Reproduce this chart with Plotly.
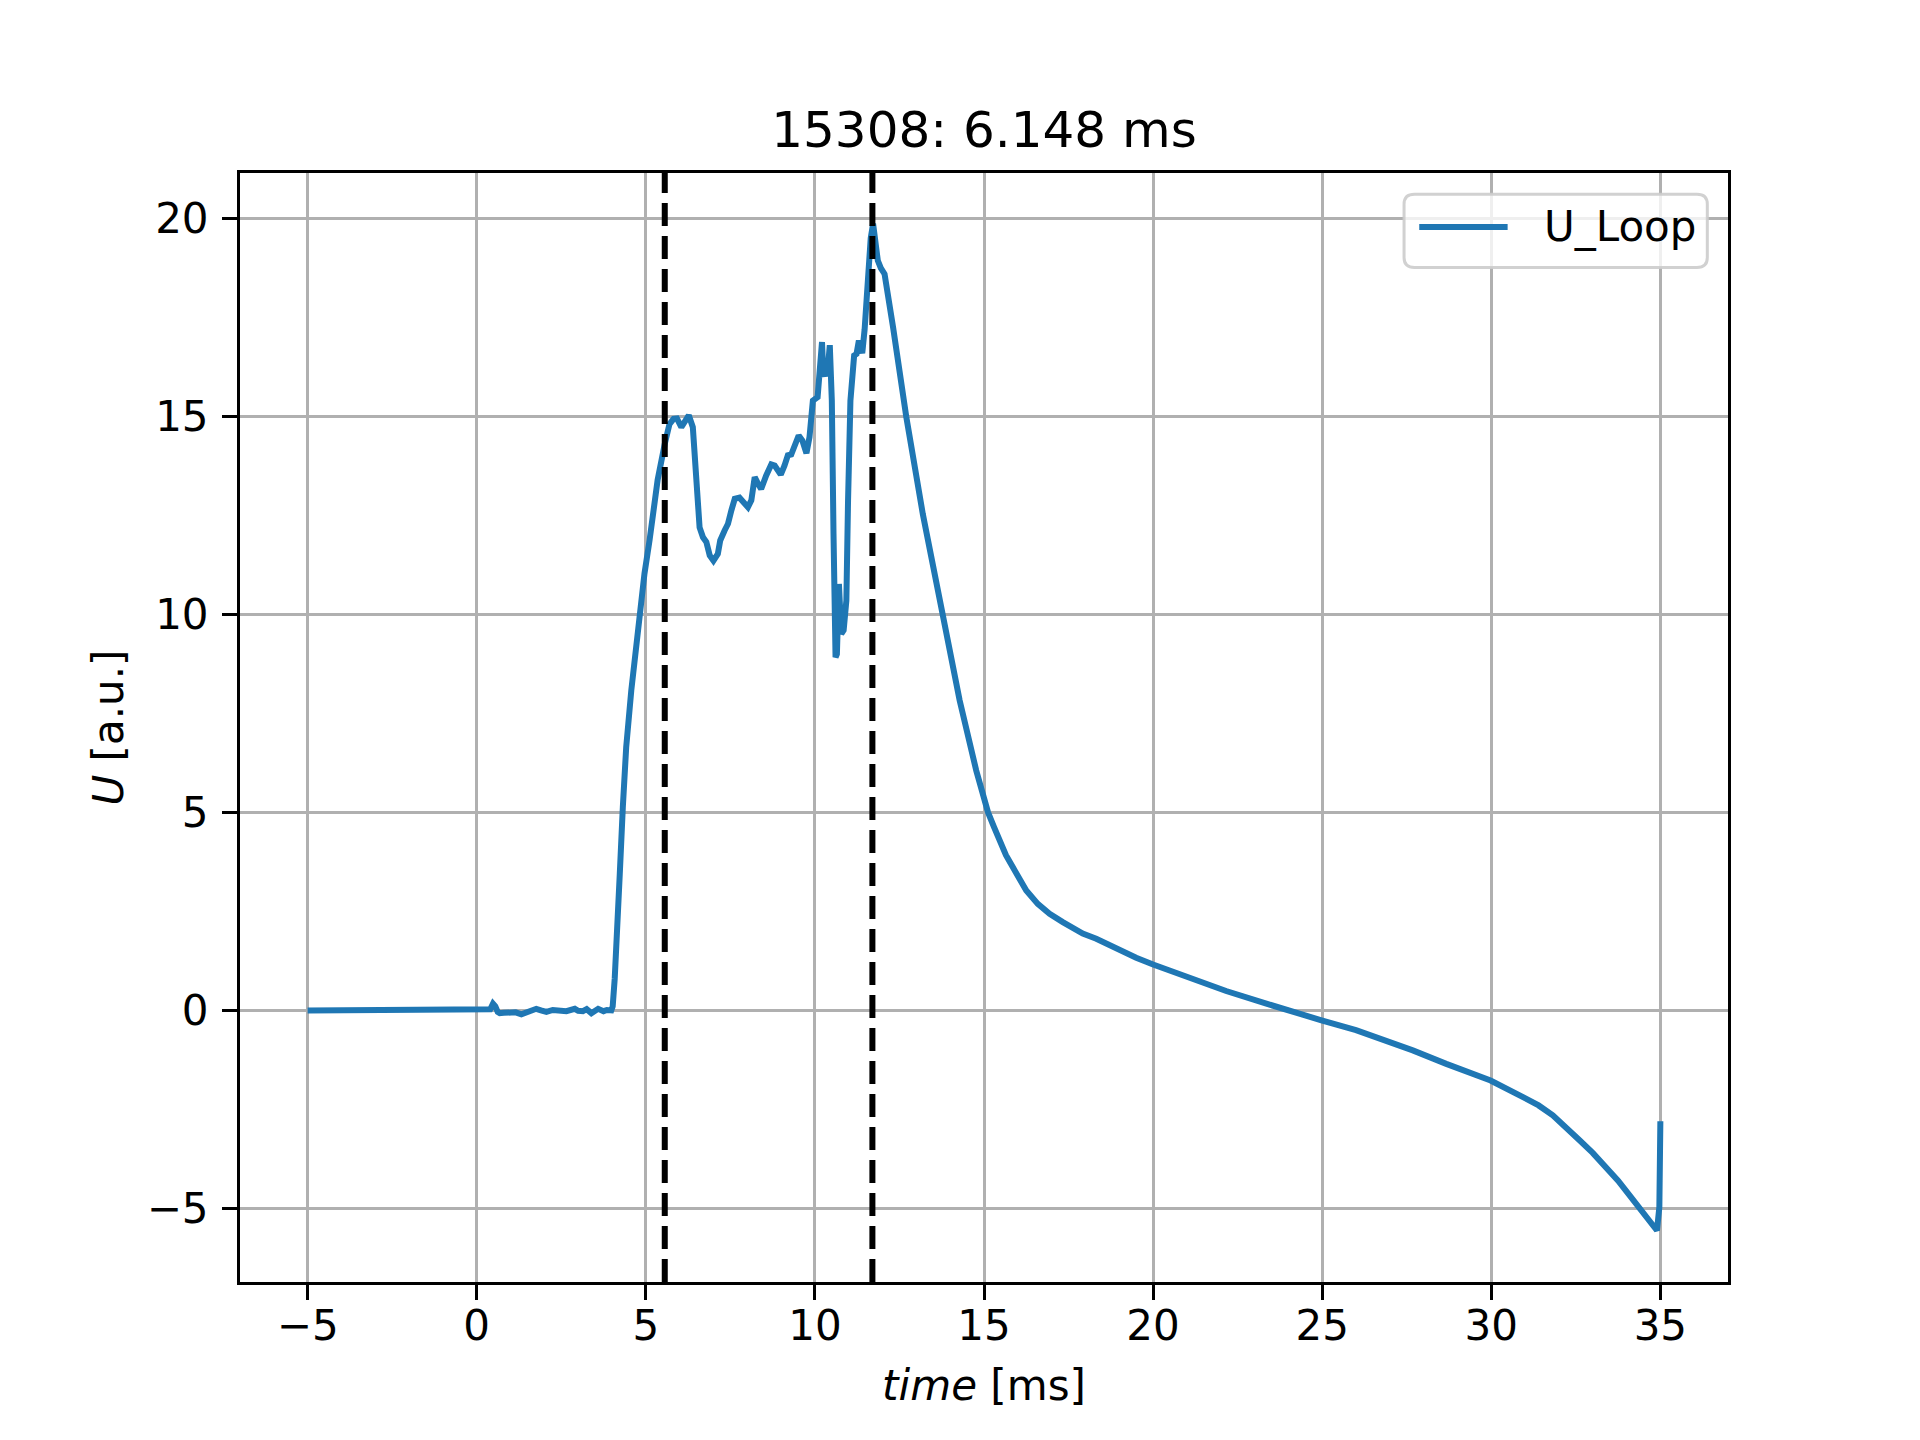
import plotly.graph_objects as go

# shot 15308, loop voltage trace
TIME_MS = [
    -5.0, 0.33, 0.40, 0.48, 0.55, 0.62, 0.68, 0.80, 0.98, 1.15, 1.32, 1.50, 1.76,
    1.90, 2.06, 2.25, 2.45, 2.65, 2.90, 3.00, 3.14, 3.25, 3.39, 3.50, 3.59, 3.75,
    3.85, 3.98, 4.02, 4.08, 4.15, 4.23, 4.32, 4.42, 4.57, 4.72, 4.82, 4.96, 5.11,
    5.21, 5.35, 5.56, 5.70, 5.82, 5.92, 6.05, 6.15, 6.27, 6.39, 6.49, 6.59, 6.69,
    6.79, 6.89, 7.00, 7.13, 7.20, 7.33, 7.43, 7.53, 7.63, 7.77, 7.90, 8.02, 8.12,
    8.22, 8.32, 8.41, 8.56, 8.71, 8.81, 8.90, 8.99, 9.10, 9.20, 9.30, 9.40, 9.52,
    9.63, 9.75, 9.84, 9.94, 10.08, 10.13, 10.21, 10.25, 10.37, 10.44, 10.50, 10.55,
    10.61, 10.65, 10.71, 10.78, 10.85, 10.93, 10.98, 11.05, 11.16, 11.23, 11.30,
    11.40, 11.47, 11.57, 11.65, 11.72, 11.86, 11.95, 12.06, 12.31, 12.50, 12.70,
    13.19, 13.78, 14.28, 14.77, 15.12, 15.30, 15.46, 15.65, 15.85, 16.05, 16.25,
    16.59, 16.94, 17.33, 17.63, 17.92, 18.32, 18.71, 19.11, 19.50, 20.00, 20.98,
    22.16, 23.35, 24.13, 24.98, 26.00, 26.99, 27.68, 28.67, 29.98, 30.94, 31.40,
    31.82, 32.20, 32.61, 33.00, 33.40, 33.75, 34.09, 34.58, 34.90, 34.97, 35.00,
]
U_LOOP = [
    0.0, 0.0, 0.03, 0.17, 0.10, -0.04, -0.07, -0.06, -0.07, -0.05, -0.10, -0.03, 0.04,
    0.0, -0.04, 0.01, 0.0, -0.02, 0.04, -0.01, -0.02, 0.03, -0.07, 0.0, 0.04, -0.02,
    0.01, 0.0, 0.10, 0.80, 1.80, 3.45, 5.13, 6.65, 8.08, 9.34, 10.0, 11.03, 11.87,
    12.60, 13.40, 14.31, 14.81, 14.94, 14.95, 14.73, 14.88, 15.03, 14.73, 13.55, 12.20, 11.95,
    11.83, 11.49, 11.36, 11.53, 11.87, 12.12, 12.29, 12.63, 12.92, 12.95, 12.85, 12.71, 12.88,
    13.47, 13.30, 13.17, 13.51, 13.79, 13.76, 13.62, 13.53, 13.76, 14.02, 14.04, 14.23, 14.52,
    14.39, 14.07, 14.48, 15.40, 15.49, 15.99, 16.88, 16.07, 16.08, 16.80, 15.40, 12.04,
    8.92, 9.00, 10.77, 9.51, 9.60, 10.35, 12.88, 15.40, 16.54, 16.58, 16.92,
    16.60, 17.20, 18.77, 19.50, 19.87, 18.94, 18.75, 18.60, 17.26, 16.10, 15.00,
    12.54, 10.00, 7.83, 6.06, 5.00, 4.62, 4.25, 3.92, 3.62, 3.31, 3.03,
    2.69, 2.44, 2.23, 2.10, 1.94, 1.81, 1.64, 1.47, 1.33, 1.16, 0.84,
    0.49, 0.17, -0.04, -0.25, -0.50, -0.78, -1.01, -1.35, -1.77, -2.19, -2.40,
    -2.65, -2.93, -3.28, -3.60, -3.96, -4.30, -4.67, -5.22, -5.56, -4.97, -2.80,
]
MARKER_TIMES = [5.56, 11.70]  # dashed markers, 6.148 ms apart
X_TICKS = [-5, 0, 5, 10, 15, 20, 25, 30, 35]
Y_TICKS = [-5, 0, 5, 10, 15, 20]

TITLE = "15308: 6.148 ms"
SERIES_NAME = "U_Loop"
LINE_COLOR = "#1f77b4"
FONT = "DejaVu Sans"

fig = go.Figure()
fig.add_trace(
    go.Scatter(
        x=TIME_MS,
        y=U_LOOP,
        mode="lines",
        name=SERIES_NAME,
        line=dict(color=LINE_COLOR, width=6),
        showlegend=False,
    )
)

for t in MARKER_TIMES:
    fig.add_vline(x=t, line=dict(color="black", width=6, dash="23px,10px"))

axis_style = dict(
    showline=True,
    mirror=True,
    linecolor="black",
    linewidth=3,
    ticks="outside",
    ticklen=15,
    tickwidth=3,
    tickcolor="black",
    showgrid=True,
    gridcolor="#b0b0b0",
    gridwidth=3,
    zeroline=False,
    tickfont=dict(family=FONT, size=42, color="black"),
)

fig.update_xaxes(
    range=[-7, 37],
    tickvals=X_TICKS,
    ticklabelstandoff=-10,
    title=dict(text="<i>time</i> [ms]", font=dict(family=FONT, size=42, color="black"), standoff=22),
    **axis_style,
)
fig.update_yaxes(
    range=[-6.86, 21.15],
    tickvals=Y_TICKS,
    ticklabelstandoff=5,
    title=dict(text="<i>U</i> [a.u.]", font=dict(family=FONT, size=42, color="black"), standoff=10),
    **axis_style,
)

# legend drawn by hand so the box / line sample match matplotlib's look
lx0, lx1, ly0, ly1 = 0.7823, 0.9861, 0.9147, 0.9809
rx, ry = 0.007, 0.009
legend_path = (
    f"M {lx0 + rx},{ly1} L {lx1 - rx},{ly1} Q {lx1},{ly1} {lx1},{ly1 - ry} "
    f"L {lx1},{ly0 + ry} Q {lx1},{ly0} {lx1 - rx},{ly0} "
    f"L {lx0 + rx},{ly0} Q {lx0},{ly0} {lx0},{ly0 + ry} "
    f"L {lx0},{ly1 - ry} Q {lx0},{ly1} {lx0 + rx},{ly1} Z"
)
fig.add_shape(
    type="path", path=legend_path, xref="paper", yref="paper",
    fillcolor="rgba(255,255,255,0.8)", line=dict(color="rgba(204,204,204,0.9)", width=3),
)
fig.add_shape(
    type="line", xref="paper", yref="paper", x0=0.7925, x1=0.8519, y0=0.9514, y1=0.9514,
    line=dict(color=LINE_COLOR, width=6),
)
fig.add_annotation(
    text=SERIES_NAME, xref="paper", yref="paper", x=0.8748, y=0.9514,
    xanchor="left", yanchor="middle", showarrow=False,
    font=dict(family=FONT, size=42, color="black"),
)

# the page body has an 8px margin, so the figure is 8px smaller and shifted margins
fig.update_layout(
    width=1912,
    height=1432,
    margin=dict(l=232, r=192, t=165, b=158),
    paper_bgcolor="white",
    plot_bgcolor="white",
    title=dict(
        text=TITLE, x=0.5, xref="paper", xanchor="center",
        y=0.915, yref="container", yanchor="middle",
        font=dict(family=FONT, size=50, color="black"),
    ),
    showlegend=False,
)

fig.write_html("out.html")
